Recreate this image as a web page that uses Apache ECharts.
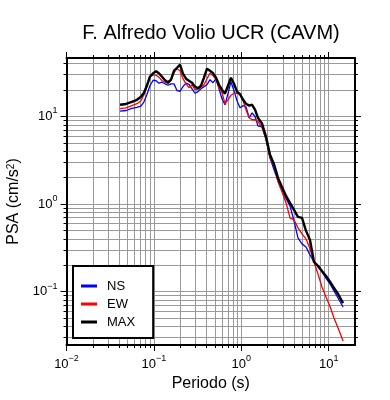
<!DOCTYPE html>
<html><head><meta charset="utf-8">
<script src="https://cdn.jsdelivr.net/npm/echarts@6/dist/echarts.min.js"></script>
<style>html,body{margin:0;padding:0;background:#fff}#c{width:390px;height:400px}</style>
</head><body><div id="c"></div>
<script>
const periods = [0.041,0.048,0.056,0.064,0.071,0.077,0.083,0.090,0.098,0.106,0.114,0.124,0.134,0.145,0.157,0.170,0.184,0.199,0.215,0.233,0.252,0.273,0.295,0.320,0.346,0.374,0.405,0.438,0.475,0.514,0.556,0.601,0.651,0.704,0.762,0.825,0.893,0.966,1.05,1.13,1.23,1.33,1.44,1.55,1.73,1.92,2.13,2.37,2.63,2.92,3.25,3.61,4.01,4.45,4.95,5.50,6.11,6.79,7.54,8.38,9.31,10.4,11.5,12.8,14.6];
const ns = [11.5,11.7,12.4,12.7,13.1,14.7,17.7,22.4,25.9,25.6,24.0,24.6,23.6,22.7,23.6,23.6,19.7,19.4,21.9,24.0,23.3,20.7,18.4,19.2,20.7,21.9,23.0,26.3,24.3,27.0,20.7,15.9,13.6,18.2,24.9,19.7,15.1,12.6,13.3,12.9,9.66,11.0,9.92,7.83,7.63,5.42,3.37,2.46,1.84,1.45,1.15,0.954,0.643,0.411,0.351,0.324,0.263,0.218,0.192,0.168,0.143,0.122,0.102,0.0847,0.0669];
const ew = [12.3,12.5,13.3,14.0,15.1,17.7,21.9,28.4,29.6,29.6,28.1,25.6,24.6,23.6,25.9,31.6,35.1,33.3,27.0,23.6,21.3,23.0,20.2,20.5,21.6,23.0,27.0,31.2,29.2,26.3,21.3,18.7,14.0,15.5,17.5,18.4,18.4,17.7,15.1,11.9,9.66,9.17,9.17,8.81,7.43,5.56,3.37,2.75,1.79,1.38,1.03,0.696,0.660,0.535,0.456,0.400,0.308,0.218,0.159,0.113,0.087,0.0669,0.050,0.0385,0.0273];
const mx = [13.6,13.9,14.7,15.5,16.8,18.7,22.4,28.4,31.2,32.9,31.2,28.4,25.9,24.6,26.3,33.3,36.0,39.0,30.8,27.0,25.6,24.3,21.9,21.0,22.5,27.7,35.1,33.3,31.2,27.7,23.0,20.2,18.2,22.4,27.7,23.6,19.2,18.0,15.5,14.0,13.3,13.6,11.9,9.66,8.25,5.86,3.65,2.85,1.99,1.57,1.24,1.03,0.858,0.714,0.696,0.494,0.390,0.218,0.197,0.172,0.151,0.129,0.110,0.094,0.074];
const seriesNames = ['NS','EW','MAX'];
const seriesColors = ['#0000ff','#ff0000','#000000'];
const xTickValues = [0.01, 0.1, 1, 10];
const yTickValues = [0.1, 1, 10];
const xRange = [0.01, 20];
const yRange = [0.0246, 46.5];
const titleText = 'F. Alfredo Volio UCR (CAVM)';
const xName = 'Periodo (s)';

const FONT = '"Liberation Sans", Helvetica, Arial, sans-serif';
function minorTicks(lo, hi) {
  const out = [];
  for (let d = -3; d <= 2; d++) for (let m = 2; m <= 9; m++) {
    const v = +(m * Math.pow(10, d)).toPrecision(6);
    if (v > lo && v < hi) out.push(v);
  }
  return out;
}
function expLabel(v) {
  const e = Math.round(Math.log10(v));
  return '{b|10}{s|' + (e < 0 ? '\u2212' + (-e) : e) + '}';
}
const labRich = {
  b: { fontSize: 13, fontFamily: FONT, color: '#000', lineHeight: 20, verticalAlign: 'middle' },
  s: { fontSize: 9, fontFamily: FONT, color: '#000', lineHeight: 14, verticalAlign: 'top' }
};
const GRID = { color: '#9a9a9a', width: 1 };
const BLACK = { color: '#000', width: 1 };

function axes(range, majors, minors, mainPos, otherPos, extra) {
  const base = { type: 'log', min: range[0], max: range[1], logBase: 10 };
  return [
    Object.assign({}, base, {
      position: mainPos,
      axisLine: { show: true, onZero: false, lineStyle: { color: '#000', width: 2 } },
      axisTick: { show: true, inside: false, length: 6, customValues: majors, lineStyle: BLACK },
      axisLabel: { show: true, customValues: majors, formatter: expLabel, rich: labRich, margin: 9, hideOverlap: false },
      splitLine: { show: true, lineStyle: GRID },
      minorTick: { show: false }, minorSplitLine: { show: false }
    }, extra),
    Object.assign({}, base, {
      position: mainPos,
      axisLine: { show: false, onZero: false },
      axisTick: { show: true, inside: false, length: 3, customValues: minors, lineStyle: BLACK },
      axisLabel: { show: false },
      splitLine: { show: true, lineStyle: GRID }
    }),
    Object.assign({}, base, {
      position: otherPos,
      axisLine: { show: true, onZero: false, lineStyle: { color: '#000', width: 2 } },
      axisTick: { show: true, inside: false, length: 6, customValues: majors, lineStyle: BLACK },
      axisLabel: { show: false },
      splitLine: { show: false }
    }),
    Object.assign({}, base, {
      position: otherPos,
      axisLine: { show: false, onZero: false },
      axisTick: { show: true, inside: false, length: 3, customValues: minors, lineStyle: BLACK },
      axisLabel: { show: false },
      splitLine: { show: false }
    })
  ];
}

const xAxes = axes(xRange, xTickValues, minorTicks(xRange[0], xRange[1]), 'bottom', 'top', {
  name: xName, nameLocation: 'middle', nameGap: 29,
  nameTextStyle: { fontSize: 16, fontFamily: FONT, color: '#000' }
});
const yAxes = axes(yRange, yTickValues, minorTicks(yRange[0], yRange[1]), 'left', 'right', {
  name: 'PSA (cm/s{sup|2})', nameLocation: 'middle', nameGap: 41, nameRotate: 90,
  nameTextStyle: { fontSize: 16, fontFamily: FONT, color: '#000',
    rich: { sup: { fontSize: 10, fontFamily: FONT, color: '#000', verticalAlign: 'top', lineHeight: 14 } } }
});

const valueSets = [ns, ew, mx];
const widths = [1.3, 1.3, 2.4];
const series = seriesNames.map((n, i) => ({
  name: n, type: 'line', xAxisIndex: 0, yAxisIndex: 0,
  data: periods.map((p, k) => [p, valueSets[i][k]]),
  showSymbol: false, symbol: 'none', color: seriesColors[i],
  lineStyle: { color: seriesColors[i], width: widths[i] },
  z: 3 + i, clip: true, animation: false
}));

const chart = echarts.init(document.getElementById('c'), null, { renderer: 'canvas' });
chart.setOption({
  animation: false,
  backgroundColor: '#fff',
  grid: { left: 66.5, top: 58, width: 288.5, height: 287, containLabel: false, outerBoundsMode: 'none' },
  xAxis: xAxes,
  yAxis: yAxes,
  graphic: [{
    type: 'text', x: 211, y: 33,
    style: { text: titleText, fontSize: 20, fontFamily: FONT, fill: '#000', align: 'center', verticalAlign: 'middle' }
  }],
  legend: {
    orient: 'vertical', left: 73, top: 266, data: seriesNames, icon: 'rect',
    itemWidth: 16, itemHeight: 3, itemGap: 4, padding: [13, 18, 9, 8],
    borderColor: '#000', borderWidth: 2, backgroundColor: '#fff', borderRadius: 0,
    selectedMode: false,
    textStyle: { fontSize: 13, fontFamily: FONT, color: '#000', lineHeight: 14, padding: [0, 0, 0, 5] }
  },
  series: series
});
</script></body></html>
